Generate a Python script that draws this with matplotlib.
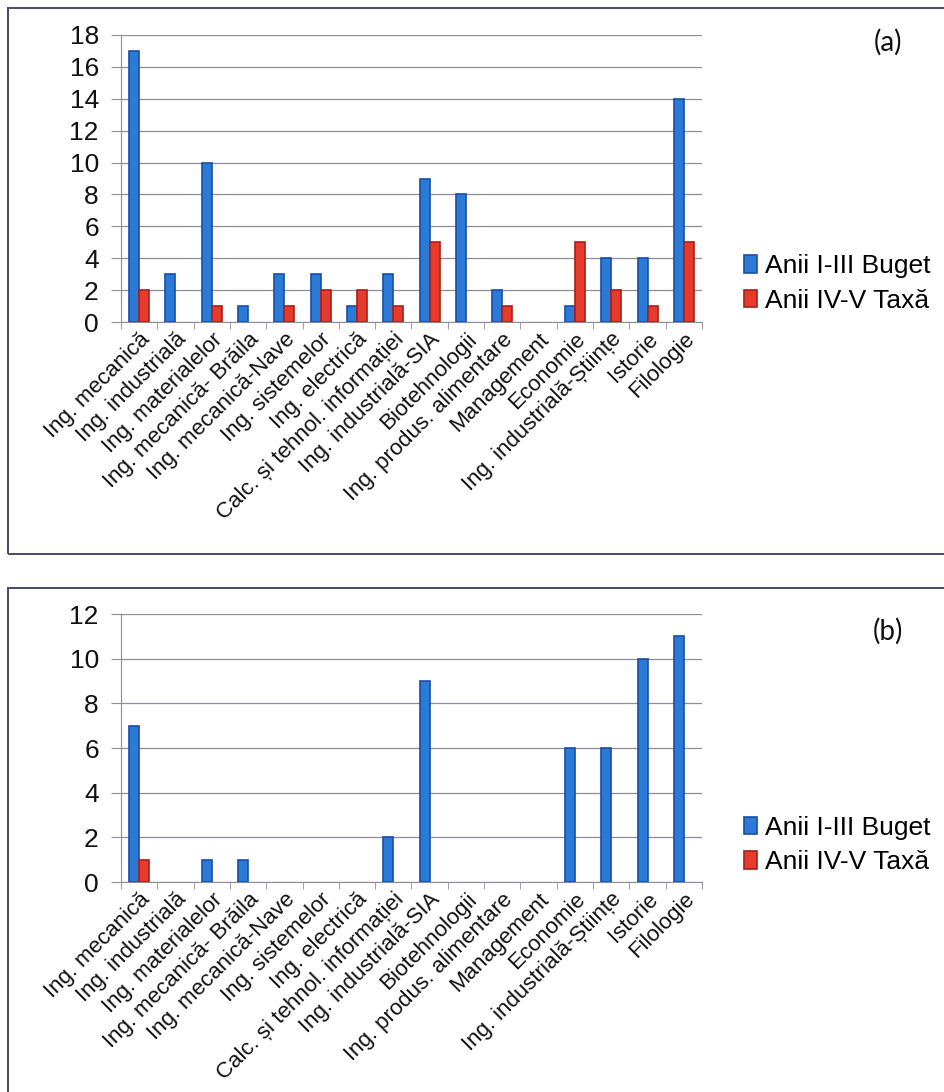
import matplotlib
matplotlib.use("Agg")
import matplotlib.pyplot as plt
from matplotlib.patches import Rectangle
import numpy as np

categories = [
    "Ing. mecanică", "Ing. industrială", "Ing. materialelor", "Ing. mecanică- Brăila",
    "Ing. mecanică-Nave", "Ing. sistemelor", "Ing. electrică",
    "Calc. și tehnol. informației", "Ing. industrială-SIA", "Biotehnologii",
    "Ing. produs. alimentare", "Management", "Economie",
    "Ing. industrială-Științe", "Istorie", "Filologie",
]
series_names = ["Anii I-III Buget", "Anii IV-V Taxă"]

a_buget = [17, 3, 10, 1, 3, 3, 1, 3, 9, 8, 2, 0, 1, 4, 4, 14]
a_taxa = [2, 0, 1, 0, 1, 2, 2, 1, 5, 0, 1, 0, 5, 2, 1, 5]
b_buget = [7, 0, 1, 1, 0, 0, 0, 2, 9, 0, 0, 0, 6, 6, 10, 11]
b_taxa = [1, 0, 0, 0, 0, 0, 0, 0, 0, 0, 0, 0, 0, 0, 0, 0]

panel_labels = ["(a)", "(b)"]

plt.rcParams['font.family'] = ['Liberation Sans', 'DejaVu Sans']

W, H = 945, 1092
fig = plt.figure(figsize=(W / 100, H / 100), dpi=100)

blue_fc, blue_ec = "#2a7ad6", "#1a4ea8"
red_fc, red_ec = "#e63a2c", "#a82018"
grid_c = "#8c8c9c"

def fx(px):
    return px / W

def fy(py):
    return 1 - py / H

# frames
fig.patches.append(Rectangle((fx(8), fy(554)), fx(960) - fx(8), fy(8) - fy(554),
                             transform=fig.transFigure, fill=False,
                             edgecolor="#4a4a6a", lw=1.4, zorder=0))
fig.patches.append(Rectangle((fx(8), fy(1110)), fx(960) - fx(8), fy(588) - fy(1110),
                             transform=fig.transFigure, fill=False,
                             edgecolor="#4a4a6a", lw=1.4, zorder=0))

panels = [
    dict(top=35, bottom=322, data=(a_buget, a_taxa), ymax=18,
         label_y=42, leg_y=(262, 305)),
    dict(top=614, bottom=882, data=(b_buget, b_taxa), ymax=12,
         label_y=631, leg_y=(825, 865)),
]

x = np.arange(len(categories))
bw = 0.275

for p, plab in zip(panels, panel_labels):
    ax = fig.add_axes([fx(121), fy(p['bottom']), fx(702) - fx(121),
                       fy(p['top']) - fy(p['bottom'])])
    buget, taxa = p['data']
    b1 = ax.bar(x - bw / 2, buget, bw, color=blue_fc, edgecolor=blue_ec,
                linewidth=[1.2 if v > 0 else 0 for v in buget], zorder=3,
                label=series_names[0])
    b2 = ax.bar(x + bw / 2, taxa, bw, color=red_fc, edgecolor=red_ec,
                linewidth=[1.2 if v > 0 else 0 for v in taxa], zorder=3,
                label=series_names[1])
    ax.set_xlim(-0.5, len(categories) - 0.5)
    ax.set_ylim(0, p['ymax'])
    ax.set_yticks(np.arange(0, p['ymax'] + 1, 2))
    ax.yaxis.grid(True, color=grid_c, lw=0.9, zorder=0)
    ax.set_axisbelow(True)
    for s in ['top', 'right']:
        ax.spines[s].set_visible(False)
    ax.spines['left'].set_color(grid_c)
    ax.spines['bottom'].set_color(grid_c)
    ax.tick_params(axis='y', length=7, color=grid_c, labelsize=19, pad=9,
                   labelcolor="#111111")
    ax.set_xticks(x)
    ax.set_xticklabels(categories, rotation=45, ha='right', va='top',
                       rotation_mode='anchor', fontsize=16, color="#111111")
    ax.tick_params(axis='x', which='major', length=0, pad=5)
    ax.set_xticks(np.arange(-0.5, len(categories)), minor=True)
    ax.tick_params(axis='x', which='minor', length=5, color=grid_c)
    fig.text(fx(888), fy(p['label_y']), plab, ha='center', va='center',
             fontsize=20, family=['Lato', 'DejaVu Sans'], color="#111111")
    h1 = Rectangle((0, 0), 1, 1, facecolor=blue_fc, edgecolor=blue_ec, lw=1.2)
    h2 = Rectangle((0, 0), 1, 1, facecolor=red_fc, edgecolor=red_ec, lw=1.2)
    ax.legend(handles=[h1, h2], labels=series_names, loc='center left',
              bbox_to_anchor=(fx(744), fy((p['leg_y'][0] + p['leg_y'][1]) / 2)),
              bbox_transform=fig.transFigure, frameon=False,
              fontsize=19, handlelength=0.5, handleheight=0.65,
              handletextpad=0.3, labelspacing=0.4, borderaxespad=0,
              borderpad=0)

fig.savefig("out.png", dpi=100)
